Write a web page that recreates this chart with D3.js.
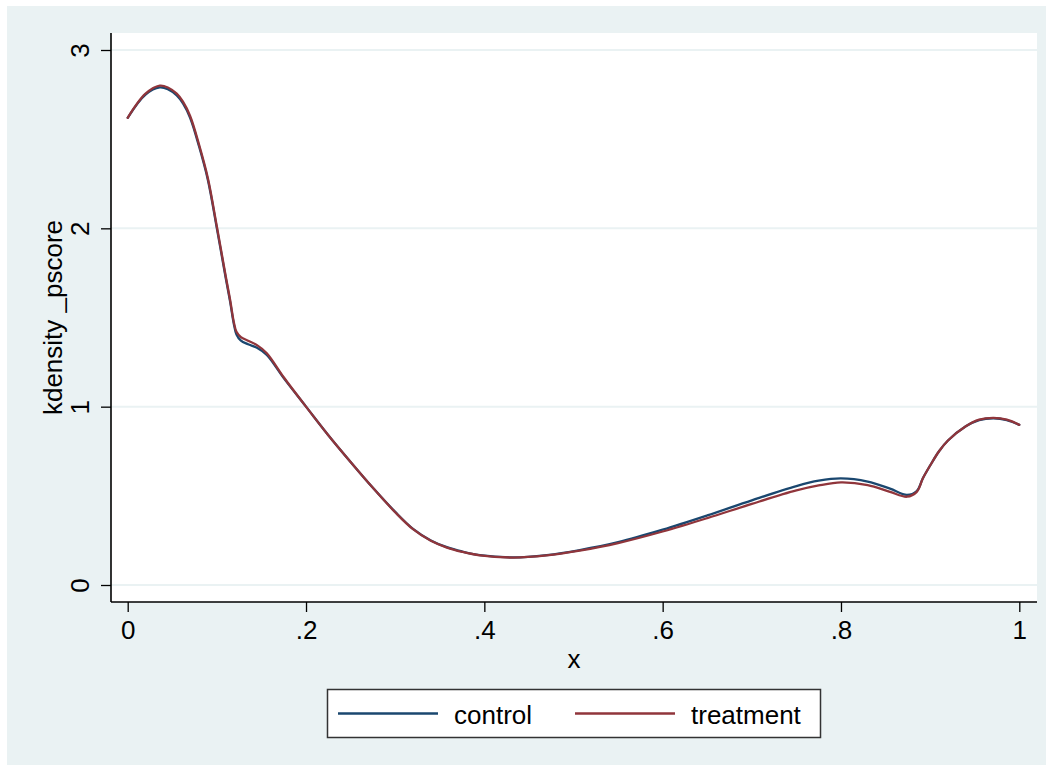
<!DOCTYPE html>
<html>
<head>
<meta charset="utf-8">
<script src="https://cdn.jsdelivr.net/npm/d3@7"></script>
<style>
  html, body { margin: 0; padding: 0; background: #ffffff; }
  svg { display: block; }
  text { font-family: "Liberation Sans", Arial, Helvetica, sans-serif; fill: #000; }
</style>
</head>
<body>
<svg id="chart" width="1053" height="771"></svg>
<script>
// Kernel density estimates of the propensity score, evaluated on a common grid
const gridX = [0, 0.02, 0.036, 0.045, 0.055, 0.062, 0.07, 0.08, 0.09, 0.1, 0.11, 0.115, 0.119, 0.122, 0.127, 0.135, 0.145, 0.156,
  0.175, 0.2, 0.225, 0.25, 0.275, 0.3, 0.32, 0.34, 0.358, 0.375, 0.395, 0.4325, 0.47, 0.507, 0.55,
  0.6, 0.65, 0.7, 0.75, 0.775, 0.8, 0.83, 0.855, 0.874, 0.885, 0.892, 0.9, 0.91, 0.92, 0.94,
  0.955, 0.971, 0.986, 1.0];

const controlY = [2.62, 2.75, 2.79, 2.78, 2.745, 2.70, 2.62, 2.46, 2.27, 2.0, 1.72, 1.585, 1.465, 1.405, 1.37, 1.35, 1.33, 1.29,
  1.16, 1.0, 0.84, 0.69, 0.545, 0.41, 0.315, 0.25, 0.212, 0.188, 0.168, 0.155, 0.168, 0.196, 0.24,
  0.31, 0.39, 0.475, 0.555, 0.585, 0.598, 0.58, 0.54, 0.505, 0.527, 0.60, 0.67, 0.75, 0.81, 0.89,
  0.925, 0.935, 0.925, 0.898];

const treatmentY = [2.62, 2.755, 2.80, 2.79, 2.755, 2.71, 2.63, 2.47, 2.28, 2.01, 1.73, 1.595, 1.475, 1.42, 1.39, 1.37, 1.345, 1.30,
  1.165, 1.0, 0.84, 0.69, 0.545, 0.408, 0.313, 0.248, 0.21, 0.186, 0.166, 0.154, 0.166, 0.193, 0.235,
  0.30, 0.375, 0.455, 0.53, 0.558, 0.575, 0.56, 0.522, 0.495, 0.522, 0.60, 0.67, 0.75, 0.81, 0.89,
  0.927, 0.937, 0.927, 0.898];

const xTicks = [0, 0.2, 0.4, 0.6, 0.8, 1];
const yTicks = [0, 1, 2, 3];
const seriesNames = ["control", "treatment"];
const seriesColors = ["#1A476F", "#90353B"];

const svg = d3.select("#chart");

// Graph region background
svg.append("rect")
  .attr("x", 7).attr("y", 6).attr("width", 1039).attr("height", 759)
  .attr("fill", "#EAF2F3");

// Plot region
const plot = { left: 111, right: 1037, top: 33, bottom: 602 };
svg.append("rect")
  .attr("x", plot.left).attr("y", plot.top)
  .attr("width", plot.right - plot.left).attr("height", plot.bottom - plot.top)
  .attr("fill", "#ffffff");

const x = d3.scaleLinear().domain([0, 1]).range([127.7, 1019.3]);
const y = d3.scaleLinear().domain([0, 3]).range([585, 50]);

// Horizontal grid lines
svg.append("g")
  .selectAll("line")
  .data(yTicks)
  .join("line")
  .attr("x1", plot.left).attr("x2", plot.right)
  .attr("y1", d => y(d)).attr("y2", d => y(d))
  .attr("stroke", "#EAF2F3").attr("stroke-width", 2);

// Stata-style labels: no leading zero on fractions
const fmt = d => Number.isInteger(d) ? String(d) : String(d).replace(/^0/, "");

// Y axis
const yAxis = svg.append("g")
  .attr("transform", `translate(${plot.left},0)`)
  .call(d3.axisLeft(y).tickValues(yTicks).tickFormat(fmt).tickSize(10).tickSizeOuter(0));
yAxis.select(".domain").remove();
yAxis.append("line")
  .attr("x1", 0).attr("x2", 0).attr("y1", plot.top).attr("y2", plot.bottom)
  .attr("stroke", "#000").attr("stroke-width", 1.6);
yAxis.selectAll(".tick line").attr("stroke", "#000").attr("stroke-width", 1.3);
yAxis.selectAll(".tick text")
  .attr("x", null).attr("dy", null)
  .attr("transform", "translate(-22,0) rotate(-90)")
  .attr("text-anchor", "middle")
  .style("font-size", "26px")
  .style("font-family", "'Liberation Sans', Arial, sans-serif")
  .attr("fill", "#000");

// X axis
const xAxis = svg.append("g")
  .attr("transform", `translate(0,${plot.bottom})`)
  .call(d3.axisBottom(x).tickValues(xTicks).tickFormat(fmt).tickSize(10).tickSizeOuter(0));
xAxis.select(".domain").remove();
xAxis.append("line")
  .attr("x1", plot.left).attr("x2", plot.right).attr("y1", 0).attr("y2", 0)
  .attr("stroke", "#000").attr("stroke-width", 1.6);
xAxis.selectAll(".tick line").attr("stroke", "#000").attr("stroke-width", 1.3);
xAxis.selectAll(".tick text")
  .attr("y", 37).attr("dy", null)
  .style("font-size", "26px")
  .style("font-family", "'Liberation Sans', Arial, sans-serif")
  .attr("fill", "#000");

// Axis titles
svg.append("text")
  .attr("x", (plot.left + plot.right) / 2).attr("y", 668)
  .attr("text-anchor", "middle")
  .style("font-size", "26px")
  .text("x");
svg.append("text")
  .attr("transform", `translate(62,${(plot.top + plot.bottom) / 2}) rotate(-90)`)
  .attr("text-anchor", "middle")
  .style("font-size", "26px")
  .text("kdensity _pscore");

// Density curves
const line = d3.line()
  .x(d => x(d[0]))
  .y(d => y(d[1]))
  .curve(d3.curveCatmullRom.alpha(0.5));

[controlY, treatmentY].forEach((vals, i) => {
  svg.append("path")
    .datum(gridX.map((gx, j) => [gx, vals[j]]))
    .attr("d", line)
    .attr("fill", "none")
    .attr("stroke", seriesColors[i])
    .attr("stroke-width", 2.3)
    .attr("stroke-linejoin", "round")
    .attr("stroke-linecap", "round");
});

// Legend
const legend = svg.append("g");
legend.append("rect")
  .attr("x", 327.5).attr("y", 689.5).attr("width", 493).attr("height", 48)
  .attr("fill", "#ffffff").attr("stroke", "#333").attr("stroke-width", 1.5);
const legendItems = [
  { x1: 338, x2: 438, tx: 454 },
  { x1: 575, x2: 675, tx: 691 }
];
legendItems.forEach((it, i) => {
  legend.append("line")
    .attr("x1", it.x1).attr("x2", it.x2).attr("y1", 713.5).attr("y2", 713.5)
    .attr("stroke", seriesColors[i]).attr("stroke-width", 2.3);
  legend.append("text")
    .attr("x", it.tx).attr("y", 724)
    .style("font-size", "26px")
    .text(seriesNames[i]);
});
</script>
</body>
</html>
